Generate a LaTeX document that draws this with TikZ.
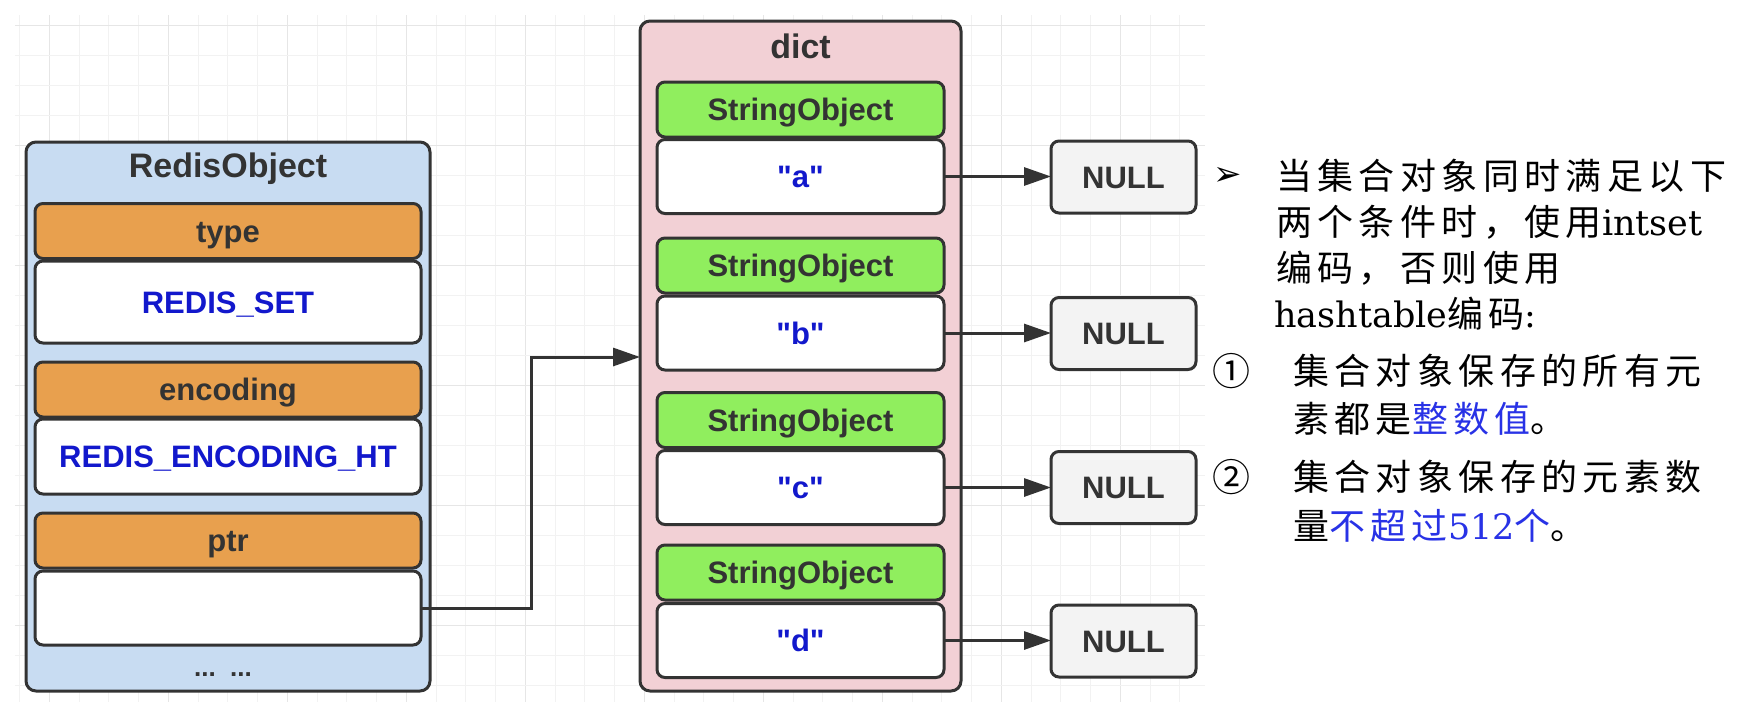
\documentclass[tikz,border=0pt]{standalone}
\usepackage{fontspec}
\usetikzlibrary{arrows.meta}
\newfontfamily\arial{Liberation Sans}
\newfontfamily\cjk{Noto Sans CJK SC}[LetterSpace=15]
\newfontfamily\cjkplain{Noto Sans CJK SC}
\newfontfamily\latn{DejaVu Serif}
\newfontfamily\sym{DejaVu Sans}
\definecolor{bordc}{RGB}{51,51,51}
\definecolor{bluebg}{RGB}{200,220,242}
\definecolor{pinkbg}{RGB}{242,208,213}
\definecolor{orangebg}{RGB}{232,160,78}
\definecolor{greenbg}{RGB}{144,238,94}
\definecolor{nullbg}{RGB}{243,243,243}
\definecolor{txtblue}{RGB}{18,24,204}
\definecolor{cnblue}{RGB}{40,50,230}
\definecolor{gridminor}{RGB}{242,242,242}
\definecolor{gridmajor}{RGB}{230,230,230}
\newcommand{\lw}[1]{{\latn\fontsize{35}{40}\selectfont #1}}
\tikzset{
  box/.style={draw=bordc, line width=3pt, rounded corners=8pt, inner sep=0pt, outer sep=0pt,
    font=\arial\bfseries\fontsize{31}{36}\selectfont, text=bordc, text height=22pt, text depth=0pt},
  container/.style={box, rounded corners=10pt},
  ttl/.style={inner sep=0pt, font=\arial\bfseries\fontsize{34}{38}\selectfont, text=bordc, text height=24pt, text depth=0pt},
  hdr/.style={box, fill=orangebg, minimum width=386pt, minimum height=55pt},
  fld/.style={box, fill=white, text=txtblue, minimum width=386pt},
  strobj/.style={box, fill=greenbg, minimum width=287pt, minimum height=55pt},
  val/.style={box, fill=white, text=txtblue, minimum width=287pt, minimum height=74pt},
  nullbox/.style={box, fill=nullbg, minimum width=145pt, minimum height=72pt},
  conn/.style={draw=bordc, line width=3pt, -{Triangle[length=27pt,width=18pt]}},
  cnline/.style={anchor=west, inner sep=0pt, font=\cjk\fontsize{36}{40}\selectfont},
  symb/.style={inner sep=0pt, font=\cjkplain\fontsize{38}{42}\selectfont}
}
\begin{document}
\begin{tikzpicture}[x=1pt,y=-1pt]
\useasboundingbox (0,0) rectangle (1748,702);
\fill[white] (0,0) rectangle (1748,702);
% grid
\foreach \i in {0,...,39} {
  \pgfmathtruncatemacro{\m}{mod(\i,4)}
  \ifnum\m=1 \def\gc{gridmajor}\else\def\gc{gridminor}\fi
  \draw[\gc, line width=1pt] ({19.5+29.75*\i},15) -- ({19.5+29.75*\i},702);
}
\foreach \j in {0,...,22} {
  \pgfmathtruncatemacro{\m}{mod(\j,4)}
  \ifnum\m=0 \def\gc{gridmajor}\else\def\gc{gridminor}\fi
  \draw[\gc, line width=1pt] (15,{25+30*\j}) -- (1205,{25+30*\j});
}
% RedisObject
\node[container, fill=bluebg, minimum width=404pt, minimum height=549pt] (robj) at (228,416.5) {};
\node[ttl] (robjt) at (228,165) {RedisObject};
\node[hdr] (type) at (228,231) {type};
\node[fld, minimum height=82pt] (typev) at (228,302) {REDIS\_SET};
\node[hdr] (enc) at (228,389.5) {encoding};
\node[fld, minimum height=75pt] (encv) at (228,456.5) {REDIS\_ENCODING\_HT};
\node[hdr] (ptr) at (228,540.5) {ptr};
\node[fld, minimum height=74pt] (ptrv) at (228,608) {};
\node[inner sep=0pt, font=\arial\bfseries\fontsize{26}{30}\selectfont, text=bordc] (dots) at (223,675) {...\ \ ...};
% dict
\node[container, fill=pinkbg, minimum width=321pt, minimum height=670pt] (dict) at (800.5,356) {};
\node[ttl] (dictt) at (800.5,46) {dict};
\node[strobj] (sa) at (800.5,109.5) {StringObject};
\node[val] (va) at (800.5,176.5) {"a"};
\node[strobj] (sb) at (800.5,265.5) {StringObject};
\node[val] (vb) at (800.5,333) {"b"};
\node[strobj] (sc) at (800.5,420) {StringObject};
\node[val] (vc) at (800.5,487.5) {"c"};
\node[strobj] (sd) at (800.5,572.5) {StringObject};
\node[val] (vd) at (800.5,640.5) {"d"};
% NULL boxes
\node[nullbox] (na) at (1123.5,177) {NULL};
\node[nullbox] (nb) at (1123.5,333.5) {NULL};
\node[nullbox] (nc) at (1123.5,487.5) {NULL};
\node[nullbox] (nd) at (1123.5,641) {NULL};
% connectors
\coordinate (bend) at (531,357);
\draw[conn] (ptrv.east) -| (bend) -- (bend -| dict.west);
\draw[conn] (va.east) -- (va.east -| na.west);
\draw[conn] (vb.east) -- (vb.east -| nb.west);
\draw[conn] (vc.east) -- (vc.east -| nc.west);
\draw[conn] (vd.east) -- (vd.east -| nd.west);
% text
\node[inner sep=0pt, font=\sym\fontsize{34}{38}\selectfont] (bul) at (1228,176) {➢};
\node[cnline] (l1) at (1276,176) {当集合对象同时满足以下};
\node[cnline] (l2) at (1276,222) {两个条件时，使用\lw{intset}};
\node[cnline] (l3) at (1276,268) {编码，否则使用};
\node[cnline] (l4) at (1274,314) {\lw{hashtable}编码\lw{:}};
\node[symb] (n1) at (1231,371) {①};
\node[cnline] (l5) at (1293,371) {集合对象保存的所有元};
\node[cnline] (l6) at (1293,419) {素都是{\color{cnblue}整数值}。};
\node[symb] (n2) at (1231,477) {②};
\node[cnline] (l7) at (1293,477) {集合对象保存的元素数};
\node[cnline] (l8) at (1293,526) {量{\color{cnblue}不超过\lw{512}个}。};
\end{tikzpicture}
\end{document}
